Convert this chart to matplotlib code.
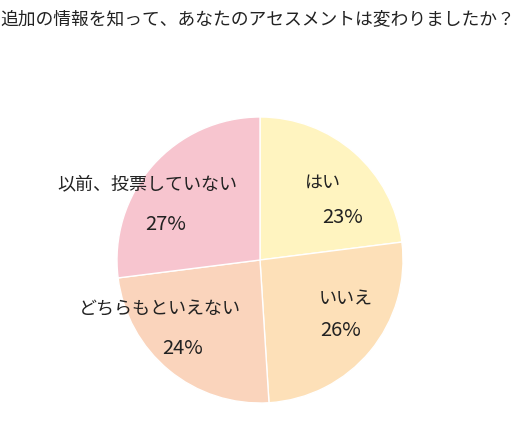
import matplotlib
matplotlib.use('Agg')
import matplotlib.pyplot as plt

plt.rcParams['font.family'] = ['Noto Sans CJK JP', 'DejaVu Sans']

# data
labels = ['はい', 'いいえ', 'どちらもといえない', '以前、投票していない']
values = [23, 26, 24, 27]
colors = ['#FFF4C0', '#FDE0B8', '#FAD4BC', '#F7C5CF']
title = '追加の情報を知って、あなたのアセスメントは変わりましたか？'

# label positions (pixel coords): name, percent
name_pos = [(323, 183), (346, 300), (160, 309), (147, 184)]
pct_pos = [(343, 217), (341, 330), (183, 349), (166, 224)]

fig = plt.figure(figsize=(5.22, 4.25), dpi=100)
ax = fig.add_axes([0, 0, 1, 1])

# y axis is inverted below, so startangle=-90 points up on screen
ax.pie(values, colors=colors, startangle=-90, counterclock=True,
       center=(260, 260), radius=143, frame=True,
       wedgeprops=dict(edgecolor='white', linewidth=1))
ax.set_xlim(0, 522)
ax.set_ylim(425, 0)
ax.set_aspect('equal')
ax.axis('off')

for lab, v, p1, p2 in zip(labels, values, name_pos, pct_pos):
    ax.text(p1[0], p1[1], lab, ha='center', va='center', fontsize=13, color='#222222')
    ax.text(p2[0], p2[1], f'{v}%', ha='center', va='center', fontsize=14.5, color='#222222')

ax.text(0, 19, title, ha='left', va='center', fontsize=12.8, color='#222222')

fig.savefig('out.png', dpi=100)
print("plot saved")
